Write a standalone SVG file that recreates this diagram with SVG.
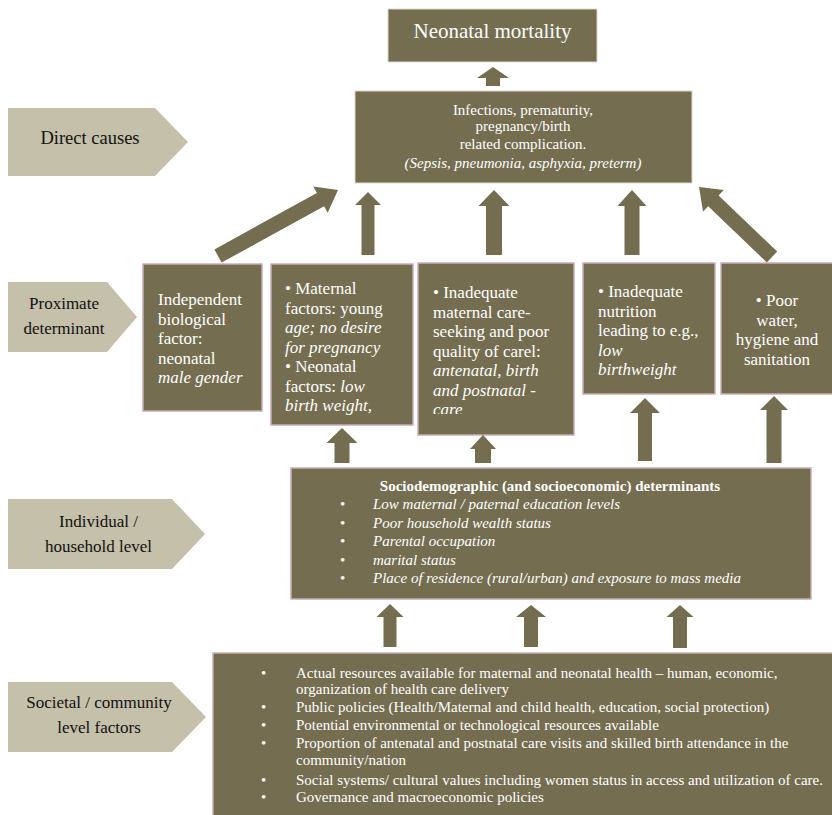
<svg xmlns="http://www.w3.org/2000/svg" width="832" height="815" viewBox="0 0 832 815" font-family="'Liberation Serif', 'Tinos', 'DejaVu Serif', serif">
<style>
.box{fill:#756d50;stroke:#c9aeb3;stroke-width:1.5;}
.boxl{fill:#756d50;stroke:#ddd8c8;stroke-width:1;}
.lab{fill:#c5c0aa;}
.arr{fill:#756d50;}
.w{fill:#ffffff;}
.lt{fill:#111111;font-size:17px;text-anchor:middle;}
.p{fill:#ffffff;font-size:17px;}
.s{fill:#ffffff;font-size:15px;}
.i{font-style:italic;}
.c{text-anchor:middle;}
</style>
<defs>
<clipPath id="clip3"><rect x="418" y="263" width="157" height="151"/></clipPath>
</defs>
<rect width="832" height="815" fill="#ffffff"/>

<g id="label-direct">
<polygon class="lab" points="8,108 155,108 188,142 155,176 8,176"/>
<text class="lt" x="90" y="144" style="font-size:18.5px">Direct causes</text>
</g>
<g id="label-proximate">
<polygon class="lab" points="8,282 107,282 137,317 107,352 8,352"/>
<text class="lt" x="64" y="309">Proximate</text>
<text class="lt" x="64" y="334">determinant</text>
</g>
<g id="label-individual">
<polygon class="lab" points="8,499 172,499 205,534 172,569 8,569"/>
<text class="lt" x="98.5" y="527">Individual /</text>
<text class="lt" x="98.5" y="552">household level</text>
</g>
<g id="label-societal">
<polygon class="lab" points="8,682 172,682 206,717 172,752 8,752"/>
<text class="lt" x="99" y="708">Societal / community</text>
<text class="lt" x="99" y="733">level factors</text>
</g>

<g id="node-mortality">
<rect class="boxl" x="388" y="9" width="209" height="53"/>
<text class="w c" x="492.5" y="38" style="font-size:21px">Neonatal mortality</text>
</g>

<g id="node-direct">
<rect class="boxl" x="355" y="91" width="337" height="92"/>
<text class="s c" x="523" y="115">Infections, prematurity,</text>
<text class="s c" x="523" y="131">pregnancy/birth</text>
<text class="s c" x="523" y="149">related complication.</text>
<text class="s c i" x="523" y="168">(Sepsis, pneumonia, asphyxia, preterm)</text>
</g>

<g id="node-biological">
<rect class="box" x="143" y="264" width="119" height="147"/>
<text class="p" x="158" y="305">Independent</text>
<text class="p" x="158" y="324.5">biological</text>
<text class="p" x="158" y="344">factor:</text>
<text class="p" x="158" y="363.5">neonatal</text>
<text class="p i" x="158" y="383">male gender</text>
</g>

<g id="node-maternal">
<rect class="box" x="271" y="264" width="142" height="161"/>
<text class="p" x="285" y="294">• Maternal</text>
<text class="p" x="285" y="313.5">factors: young</text>
<text class="p i" x="285" y="333">age; no desire</text>
<text class="p i" x="285" y="352.5">for pregnancy</text>
<text class="p" x="285" y="372">• Neonatal</text>
<text class="p" x="285" y="391.5">factors: <tspan class="i">low</tspan></text>
<text class="p i" x="285" y="411">birth weight,</text>
</g>

<g id="node-care">
<rect class="box" x="418" y="263" width="156" height="172"/>
<g clip-path="url(#clip3)">
<text class="p" x="433" y="298">• Inadequate</text>
<text class="p" x="433" y="317.5">maternal care-</text>
<text class="p" x="433" y="337">seeking and poor</text>
<text class="p" x="433" y="356.5">quality of carel:</text>
<text class="p i" x="433" y="376">antenatal, birth</text>
<text class="p i" x="433" y="395.5">and postnatal -</text>
<text class="p i" x="433" y="415">care</text>
</g>
</g>

<g id="node-nutrition">
<rect class="box" x="583" y="263" width="132" height="131"/>
<text class="p" x="598" y="297">• Inadequate</text>
<text class="p" x="598" y="316.5">nutrition</text>
<text class="p" x="598" y="336">leading to e.g.,</text>
<text class="p i" x="598" y="355.5">low</text>
<text class="p i" x="598" y="375">birthweight</text>
</g>

<g id="node-water">
<rect class="box" x="721" y="263" width="115" height="131"/>
<text class="p c" x="777" y="306">• Poor</text>
<text class="p c" x="777" y="325.5">water,</text>
<text class="p c" x="777" y="345">hygiene and</text>
<text class="p c" x="777" y="364.5">sanitation</text>
</g>

<g id="node-sociodemographic">
<rect class="box" x="291" y="468" width="520" height="131"/>
<text class="s c" x="550" y="491" style="font-weight:bold">Sociodemographic (and socioeconomic) determinants</text>
<text class="s" x="340" y="509">•</text><text class="s i" x="373" y="509">Low maternal / paternal education levels</text>
<text class="s" x="340" y="527.5">•</text><text class="s i" x="373" y="527.5">Poor household wealth status</text>
<text class="s" x="340" y="546">•</text><text class="s i" x="373" y="546">Parental occupation</text>
<text class="s" x="340" y="564.5">•</text><text class="s i" x="373" y="564.5">marital status</text>
<text class="s" x="340" y="583">•</text><text class="s i" x="373" y="583">Place of residence (rural/urban) and exposure to mass media</text>
</g>

<g id="node-societal">
<rect class="box" x="213" y="653" width="625" height="170"/>
<text class="s" x="261" y="678">•</text><text class="s" x="296" y="678">Actual resources available for maternal and neonatal health – human, economic,</text>
<text class="s" x="296" y="694">organization of health care delivery</text>
<text class="s" x="261" y="712">•</text><text class="s" x="296" y="712">Public policies (Health/Maternal and child health, education, social protection)</text>
<text class="s" x="261" y="730">•</text><text class="s" x="296" y="730">Potential environmental or technological resources available</text>
<text class="s" x="261" y="748">•</text><text class="s" x="296" y="748">Proportion of antenatal and postnatal care visits and skilled birth attendance in the</text>
<text class="s" x="296" y="765">community/nation</text>
<text class="s" x="261" y="785">•</text><text class="s" x="296" y="785">Social systems/ cultural values including women status in access and utilization of care.</text>
<text class="s" x="261" y="802">•</text><text class="s" x="296" y="802">Governance and macroeconomic policies</text>
</g>

<g id="connectors">
<polygon class="arr" points="486,86 486,78 477,78 493,67 509,78 500,78 500,86"/>
<polygon class="arr" points="221.6,262.6 324.1,206.2 327.7,212.7 338,190 313.3,186.5 316.9,193 214.4,249.4"/>
<polygon class="arr" points="361.5,255 361.5,205 355,205 368,192 381,205 374.5,205 374.5,255"/>
<polygon class="arr" points="486,255 486,206 478.5,206 494,190 509.5,206 502,206 502,255"/>
<polygon class="arr" points="624.5,255 624.5,206 617.5,206 632,190 646.5,206 639.5,206 639.5,255"/>
<polygon class="arr" points="777.2,251.6 718.6,195.4 723.8,190 699,187 703,211.6 708.2,206.2 766.8,262.4"/>
<polygon class="arr" points="334.5,463 334.5,443 326.5,443 342,428 357.5,443 349.5,443 349.5,463"/>
<polygon class="arr" points="475,463 475,449 470,449 483,435 496,449 491,449 491,463"/>
<polygon class="arr" points="638,461 638,413 630,413 645,398 660,413 652,413 652,461"/>
<polygon class="arr" points="766.5,463 766.5,410 760,410 774,396 788,410 781.5,410 781.5,463"/>
<polygon class="arr" points="383.5,647 383.5,617 376.5,617 390,604 403.5,617 396.5,617 396.5,647"/>
<polygon class="arr" points="524,647 524,617 516,617 531,605 546,617 538,617 538,647"/>
<polygon class="arr" points="673,648 673,617 666.5,617 680,605 693.5,617 687,617 687,648"/>
</g>
</svg>
